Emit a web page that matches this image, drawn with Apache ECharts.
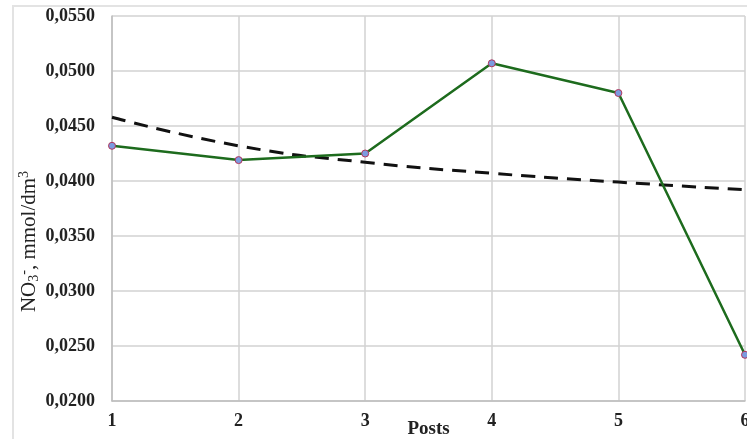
<!DOCTYPE html>
<html>
<head>
<meta charset="utf-8">
<script src="https://cdn.jsdelivr.net/npm/echarts@6/dist/echarts.min.js"></script>
<style>
html,body{margin:0;padding:0;background:#fff;}
#c{width:747px;height:439px;}
</style>
</head>
<body>
<div id="c"></div>
<script>
var categories = ['1', '2', '3', '4', '5', '6'];
var no3Values = [0.0432, 0.0419, 0.0425, 0.0507, 0.0480, 0.0242];
var trendValues = [0.0458, 0.0432, 0.0417, 0.0407, 0.0399, 0.0392];
var yMin = 0.02, yMax = 0.055, yStep = 0.005;

var chart = echarts.init(document.getElementById('c'), null, {renderer: 'canvas'});
var serif = '"Liberation Serif", "DejaVu Serif", serif';
chart.setOption({
  animation: false,
  backgroundColor: '#fff',
  graphic: [{
    type: 'rect', shape: {x: 13, y: 6, width: 760, height: 460},
    style: {fill: 'none', stroke: '#e3e3e3', lineWidth: 2}, z: -1
  }],
  grid: {left: 112, right: 2, top: 16, bottom: 38, outerBoundsMode: 'none', containLabel: false},
  xAxis: {
    type: 'category', data: categories, boundaryGap: false,
    name: 'Posts', nameLocation: 'middle', nameGap: 19, nameMoveOverlap: false,
    nameTextStyle: {fontFamily: serif, fontSize: 19, fontWeight: 'bold', color: '#222'},
    axisLine: {lineStyle: {color: '#bdbdbd', width: 1.5}},
    axisTick: {show: false},
    axisLabel: {fontFamily: serif, fontSize: 18, fontWeight: 'bold', color: '#222', margin: 11},
    splitLine: {show: true, lineStyle: {color: '#d2d2d2', width: 1.5}}
  },
  yAxis: {
    type: 'value', min: yMin, max: yMax, interval: yStep,
    name: '{b|NO}{s|3}{p|-}{b|, mmol/dm}{p|3}',
    nameLocation: 'middle', nameGap: 71, nameRotate: 90, nameMoveOverlap: false,
    nameTextStyle: {
      padding: [0, 66, 0, 0],
      rich: {
        b: {fontFamily: serif, fontSize: 21, color: '#222'},
        s: {fontFamily: serif, fontSize: 14, color: '#222', verticalAlign: 'bottom', padding: [10, 0, 0, 0]},
        p: {fontFamily: serif, fontSize: 14, color: '#222', verticalAlign: 'top', padding: [0, 0, 10, 0]}
      }
    },
    axisLine: {show: true, lineStyle: {color: '#bdbdbd', width: 1.5}},
    axisTick: {show: false},
    axisLabel: {
      fontFamily: serif, fontSize: 18, fontWeight: 'bold', color: '#222', margin: 17,
      formatter: function (v) { return v.toFixed(4).replace('.', ','); }
    },
    splitLine: {show: true, lineStyle: {color: '#d2d2d2', width: 1.5}}
  },
  series: [{
    type: 'line', data: trendValues, smooth: true, symbol: 'none',
    lineStyle: {color: '#111', width: 3, type: [14, 9]}, z: 2
  }, {
    type: 'line', data: no3Values, symbol: 'circle', symbolSize: 7,
    lineStyle: {color: '#1d6b1d', width: 2.5},
    itemStyle: {color: '#7b9be0', borderColor: '#b3365b', borderWidth: 1},
    z: 3
  }]
});
</script>
</body>
</html>
